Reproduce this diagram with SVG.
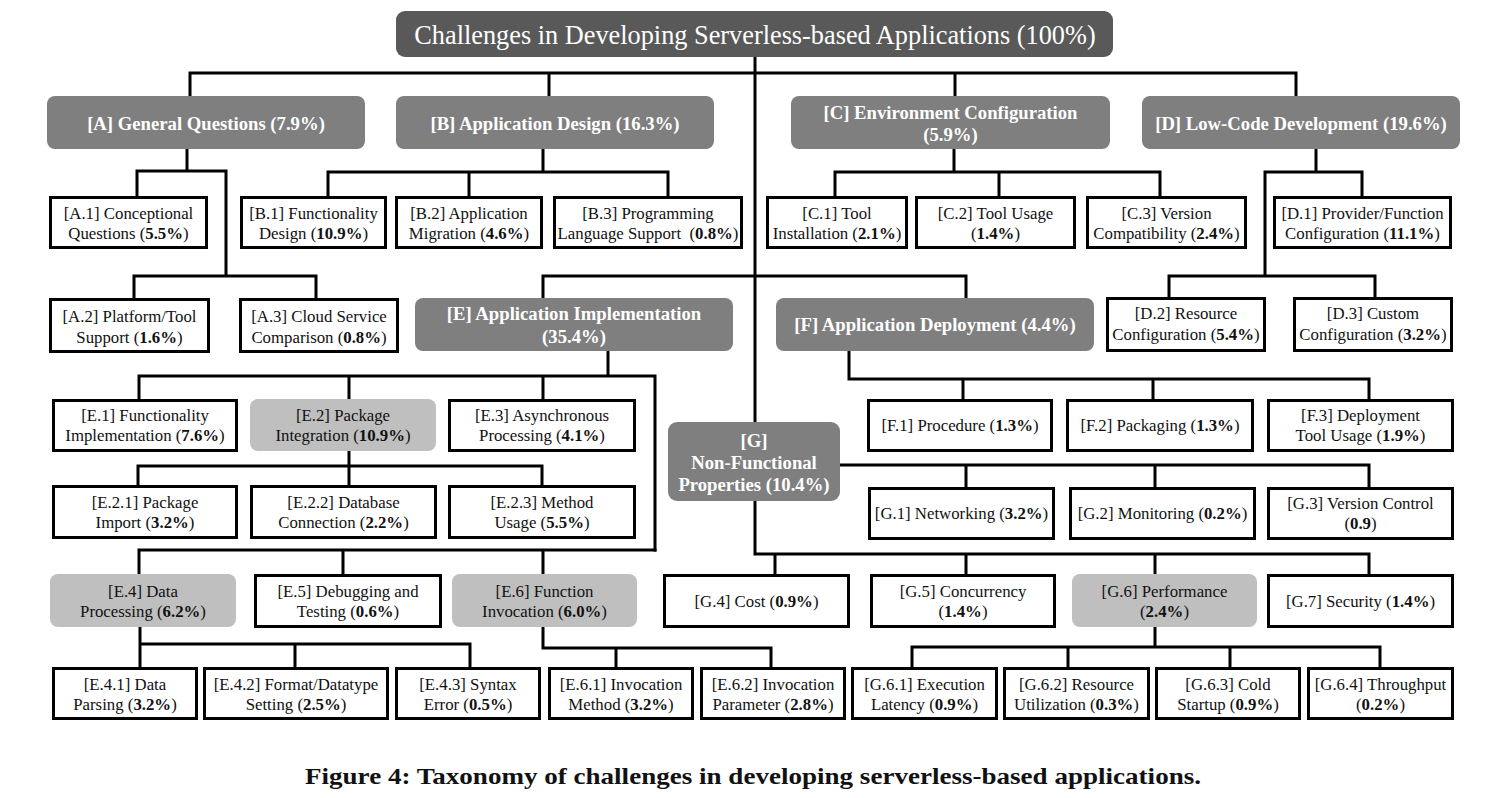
<svg xmlns="http://www.w3.org/2000/svg" width="1506" height="798" viewBox="0 0 1506 798">
  <style>
    .bg { fill: #ffffff; }
    .root { fill: #595959; }
    .cat { fill: #7f7f7f; }
    .sub { fill: #bfbfbf; }
    .leaf { fill: #ffffff; stroke: #000000; stroke-width: 3; }
    .wire { fill: none; stroke: #000000; stroke-width: 3; stroke-linejoin: miter; stroke-linecap: square; }
    text { font-family: "Liberation Serif", "Times New Roman", serif; text-anchor: middle; }
    .t { font-size: 16.8px; fill: #111111; }
    .b { font-weight: bold; }
    .h { font-size: 18.7px; font-weight: bold; fill: #ffffff; }
    .title { font-size: 26.3px; fill: #ffffff; }
    .caption { font-size: 23px; font-weight: bold; fill: #111111; }
  </style>

  <rect class="bg" x="0" y="0" width="1506" height="798"/>

  <!-- tree wiring -->
  <g id="connectors">
    <path class="wire" d="M755 57 V422"/>
    <path class="wire" d="M190 96 V73 H1296 V96 M549 73 V96 M955 73 V96"/>
    <!-- A -->
    <path class="wire" d="M187 149 V171 M137 196 V171 H226 V276 M134 298 V276 H316 V298"/>
    <!-- B -->
    <path class="wire" d="M543 149 V172 M328 196 V172 H668 V196 M469 172 V196"/>
    <!-- C -->
    <path class="wire" d="M954 149 V172 M835 196 V172 H1160 V196 M999 172 V196"/>
    <!-- D -->
    <path class="wire" d="M1316 149 V172 M1362 196 V172 H1265 V276 M1169 298 V276 H1375 V298"/>
    <!-- E / F -->
    <path class="wire" d="M543 298 V276 H966 V298"/>
    <!-- E -->
    <path class="wire" d="M608 351 V376 M139 399 V376 H655 V550 M349 376 V399 M543 376 V399"/>
    <path class="wire" d="M349 451 V466 M138 485 V466 H542 V485 M349 466 V485"/>
    <path class="wire" d="M139 574 V550 H655 M343 550 V574 M543 550 V574"/>
    <path class="wire" d="M140 627 V667 M140 644 H470 V667 M295 644 V667"/>
    <path class="wire" d="M543 627 V648 H771 V667 M616 648 V667"/>
    <!-- F -->
    <path class="wire" d="M849 351 V379 H1369 V399 M963 379 V399 M1153 379 V399"/>
    <!-- G -->
    <path class="wire" d="M840 465 H1369 V487 M966 465 V487 M1155 465 V487"/>
    <path class="wire" d="M755 501 V554 H1369 V574 M775 554 V574 M966 554 V574 M1155 554 V574"/>
    <path class="wire" d="M1155 627 V647 M912 667 V647 H1380 V667 M1068 647 V667 M1230 647 V667"/>
  </g>

  <!-- root -->
  <g id="root">
    <rect class="root" x="396" y="11" width="717" height="46" rx="9"/>
    <text class="title" x="755" y="44">Challenges in Developing Serverless-based Applications (100%)</text>
  </g>

  <!-- categories -->
  <g id="A">
    <rect class="cat" x="47" y="96" width="318" height="53" rx="8"/>
    <text class="h" x="206" y="130">[A] General Questions (7.9%)</text>
  </g>
  <g id="B">
    <rect class="cat" x="396" y="96" width="318" height="53" rx="8"/>
    <text class="h" x="555" y="130">[B] Application Design (16.3%)</text>
  </g>
  <g id="C">
    <rect class="cat" x="791" y="96" width="319" height="53" rx="8"/>
    <text class="h" x="950.5" y="119">[C] Environment Configuration</text>
    <text class="h" x="950.5" y="141">(5.9%)</text>
  </g>
  <g id="D">
    <rect class="cat" x="1142" y="96" width="318" height="53" rx="8"/>
    <text class="h" x="1301" y="130">[D] Low-Code Development (19.6%)</text>
  </g>
  <g id="E">
    <rect class="cat" x="415" y="298" width="318" height="53" rx="8"/>
    <text class="h" x="574" y="320">[E] Application Implementation</text>
    <text class="h" x="574" y="343">(35.4%)</text>
  </g>
  <g id="F">
    <rect class="cat" x="776" y="298" width="318" height="53" rx="8"/>
    <text class="h" x="935" y="331">[F] Application Deployment (4.4%)</text>
  </g>
  <g id="G">
    <rect class="cat" x="668" y="422" width="172" height="79" rx="9"/>
    <text class="h" x="754" y="447">[G]</text>
    <text class="h" x="754" y="469">Non-Functional</text>
    <text class="h" x="754" y="491">Properties (10.4%)</text>
  </g>

  <!-- A leaves -->
  <g id="A1">
    <rect class="leaf" x="50.5" y="197.5" width="156" height="50"/>
    <text class="t" x="128.5" y="219">[A.1] Conceptional</text>
    <text class="t" x="128.5" y="239">Questions (<tspan class="b">5.5%</tspan>)</text>
  </g>
  <g id="A2">
    <rect class="leaf" x="50.5" y="299.5" width="158" height="52"/>
    <text class="t" x="129.5" y="322">[A.2] Platform/Tool</text>
    <text class="t" x="129.5" y="343">Support (<tspan class="b">1.6%</tspan>)</text>
  </g>
  <g id="A3">
    <rect class="leaf" x="240.5" y="299.5" width="157" height="52"/>
    <text class="t" x="319" y="322">[A.3] Cloud Service</text>
    <text class="t" x="319" y="343">Comparison (<tspan class="b">0.8%</tspan>)</text>
  </g>

  <!-- B leaves -->
  <g id="B1">
    <rect class="leaf" x="241.5" y="197.5" width="144" height="50"/>
    <text class="t" x="313.5" y="219">[B.1] Functionality</text>
    <text class="t" x="313.5" y="239">Design (<tspan class="b">10.9%</tspan>)</text>
  </g>
  <g id="B2">
    <rect class="leaf" x="396.5" y="197.5" width="145" height="50"/>
    <text class="t" x="469" y="219">[B.2] Application</text>
    <text class="t" x="469" y="239">Migration (<tspan class="b">4.6%</tspan>)</text>
  </g>
  <g id="B3">
    <rect class="leaf" x="554.5" y="197.5" width="187" height="50"/>
    <text class="t" x="648" y="219">[B.3] Programming</text>
    <text class="t" x="648" y="239">Language Support &#160;(<tspan class="b">0.8%</tspan>)</text>
  </g>

  <!-- C leaves -->
  <g id="C1">
    <rect class="leaf" x="767.5" y="197.5" width="139" height="50"/>
    <text class="t" x="837" y="219">[C.1] Tool</text>
    <text class="t" x="837" y="239">Installation (<tspan class="b">2.1%</tspan>)</text>
  </g>
  <g id="C2">
    <rect class="leaf" x="916.5" y="197.5" width="158" height="50"/>
    <text class="t" x="995.5" y="219">[C.2] Tool Usage</text>
    <text class="t" x="995.5" y="239">(<tspan class="b">1.4%</tspan>)</text>
  </g>
  <g id="C3">
    <rect class="leaf" x="1087.5" y="197.5" width="158" height="50"/>
    <text class="t" x="1166.5" y="219">[C.3] Version</text>
    <text class="t" x="1166.5" y="239">Compatibility (<tspan class="b">2.4%</tspan>)</text>
  </g>

  <!-- D leaves -->
  <g id="D1">
    <rect class="leaf" x="1274.5" y="197.5" width="176" height="50"/>
    <text class="t" x="1362.5" y="219">[D.1] Provider/Function</text>
    <text class="t" x="1362.5" y="239">Configuration (<tspan class="b">11.1%</tspan>)</text>
  </g>
  <g id="D2">
    <rect class="leaf" x="1107.5" y="298.5" width="157" height="52"/>
    <text class="t" x="1186" y="319">[D.2] Resource</text>
    <text class="t" x="1186" y="340">Configuration (<tspan class="b">5.4%</tspan>)</text>
  </g>
  <g id="D3">
    <rect class="leaf" x="1294.5" y="298.5" width="157" height="52"/>
    <text class="t" x="1373" y="319">[D.3] Custom</text>
    <text class="t" x="1373" y="340">Configuration (<tspan class="b">3.2%</tspan>)</text>
  </g>

  <!-- E leaves -->
  <g id="E1">
    <rect class="leaf" x="53.5" y="400.5" width="183" height="50"/>
    <text class="t" x="145" y="421">[E.1] Functionality</text>
    <text class="t" x="145" y="441">Implementation (<tspan class="b">7.6%</tspan>)</text>
  </g>
  <g id="E2">
    <rect class="sub" x="250" y="399" width="186" height="52" rx="8"/>
    <text class="t" x="343" y="421">[E.2] Package</text>
    <text class="t" x="343" y="441">Integration (<tspan class="b">10.9%</tspan>)</text>
  </g>
  <g id="E3">
    <rect class="leaf" x="449.5" y="400.5" width="185" height="50"/>
    <text class="t" x="542" y="421">[E.3] Asynchronous</text>
    <text class="t" x="542" y="441">Processing (<tspan class="b">4.1%</tspan>)</text>
  </g>
  <g id="E2-1">
    <rect class="leaf" x="53.5" y="486.5" width="183" height="51"/>
    <text class="t" x="145" y="508">[E.2.1] Package</text>
    <text class="t" x="145" y="528">Import (<tspan class="b">3.2%</tspan>)</text>
  </g>
  <g id="E2-2">
    <rect class="leaf" x="251.5" y="486.5" width="184" height="51"/>
    <text class="t" x="343.5" y="508">[E.2.2] Database</text>
    <text class="t" x="343.5" y="528">Connection (<tspan class="b">2.2%</tspan>)</text>
  </g>
  <g id="E2-3">
    <rect class="leaf" x="449.5" y="486.5" width="185" height="51"/>
    <text class="t" x="542" y="508">[E.2.3] Method</text>
    <text class="t" x="542" y="528">Usage (<tspan class="b">5.5%</tspan>)</text>
  </g>
  <g id="E4">
    <rect class="sub" x="50" y="574" width="186" height="53" rx="8"/>
    <text class="t" x="143" y="597">[E.4] Data</text>
    <text class="t" x="143" y="617">Processing (<tspan class="b">6.2%</tspan>)</text>
  </g>
  <g id="E5">
    <rect class="leaf" x="255.5" y="575.5" width="185" height="51"/>
    <text class="t" x="348" y="597">[E.5] Debugging and</text>
    <text class="t" x="348" y="617">Testing (<tspan class="b">0.6%</tspan>)</text>
  </g>
  <g id="E6">
    <rect class="sub" x="452" y="574" width="185" height="53" rx="8"/>
    <text class="t" x="544.5" y="597">[E.6] Function</text>
    <text class="t" x="544.5" y="617">Invocation (<tspan class="b">6.0%</tspan>)</text>
  </g>
  <g id="E4-1">
    <rect class="leaf" x="53.5" y="668.5" width="143" height="50"/>
    <text class="t" x="125" y="690">[E.4.1] Data</text>
    <text class="t" x="125" y="710">Parsing (<tspan class="b">3.2%</tspan>)</text>
  </g>
  <g id="E4-2">
    <rect class="leaf" x="204.5" y="668.5" width="183" height="50"/>
    <text class="t" x="296" y="690">[E.4.2] Format/Datatype</text>
    <text class="t" x="296" y="710">Setting (<tspan class="b">2.5%</tspan>)</text>
  </g>
  <g id="E4-3">
    <rect class="leaf" x="396.5" y="668.5" width="143" height="50"/>
    <text class="t" x="468" y="690">[E.4.3] Syntax</text>
    <text class="t" x="468" y="710">Error (<tspan class="b">0.5%</tspan>)</text>
  </g>
  <g id="E6-1">
    <rect class="leaf" x="549.5" y="668.5" width="143" height="50"/>
    <text class="t" x="621" y="690">[E.6.1] Invocation</text>
    <text class="t" x="621" y="710">Method (<tspan class="b">3.2%</tspan>)</text>
  </g>
  <g id="E6-2">
    <rect class="leaf" x="701.5" y="668.5" width="143" height="50"/>
    <text class="t" x="773" y="690">[E.6.2] Invocation</text>
    <text class="t" x="773" y="710">Parameter (<tspan class="b">2.8%</tspan>)</text>
  </g>

  <!-- F leaves -->
  <g id="F1">
    <rect class="leaf" x="868.5" y="400.5" width="183" height="50"/>
    <text class="t" x="960" y="431">[F.1] Procedure (<tspan class="b">1.3%</tspan>)</text>
  </g>
  <g id="F2">
    <rect class="leaf" x="1067.5" y="400.5" width="185" height="50"/>
    <text class="t" x="1160" y="431">[F.2] Packaging (<tspan class="b">1.3%</tspan>)</text>
  </g>
  <g id="F3">
    <rect class="leaf" x="1268.5" y="400.5" width="184" height="50"/>
    <text class="t" x="1360.5" y="421">[F.3] Deployment</text>
    <text class="t" x="1360.5" y="441">Tool Usage (<tspan class="b">1.9%</tspan>)</text>
  </g>

  <!-- G leaves -->
  <g id="G1">
    <rect class="leaf" x="869.5" y="488.5" width="184" height="50"/>
    <text class="t" x="961.5" y="519">[G.1] Networking (<tspan class="b">3.2%</tspan>)</text>
  </g>
  <g id="G2">
    <rect class="leaf" x="1070.5" y="488.5" width="184" height="50"/>
    <text class="t" x="1162.5" y="519">[G.2] Monitoring (<tspan class="b">0.2%</tspan>)</text>
  </g>
  <g id="G3">
    <rect class="leaf" x="1268.5" y="488.5" width="184" height="50"/>
    <text class="t" x="1360.5" y="509">[G.3] Version Control</text>
    <text class="t" x="1360.5" y="529">(<tspan class="b">0.9</tspan>)</text>
  </g>
  <g id="G4">
    <rect class="leaf" x="664.5" y="575.5" width="184" height="51"/>
    <text class="t" x="756.5" y="607">[G.4] Cost (<tspan class="b">0.9%</tspan>)</text>
  </g>
  <g id="G5">
    <rect class="leaf" x="871.5" y="575.5" width="183" height="51"/>
    <text class="t" x="963" y="597">[G.5] Concurrency</text>
    <text class="t" x="963" y="617">(<tspan class="b">1.4%</tspan>)</text>
  </g>
  <g id="G6">
    <rect class="sub" x="1072" y="574" width="185" height="53" rx="8"/>
    <text class="t" x="1164.5" y="597">[G.6] Performance</text>
    <text class="t" x="1164.5" y="617">(<tspan class="b">2.4%</tspan>)</text>
  </g>
  <g id="G7">
    <rect class="leaf" x="1268.5" y="575.5" width="184" height="51"/>
    <text class="t" x="1360.5" y="607">[G.7] Security (<tspan class="b">1.4%</tspan>)</text>
  </g>
  <g id="G6-1">
    <rect class="leaf" x="852.5" y="668.5" width="144" height="50"/>
    <text class="t" x="924.5" y="690">[G.6.1] Execution</text>
    <text class="t" x="924.5" y="710">Latency (<tspan class="b">0.9%</tspan>)</text>
  </g>
  <g id="G6-2">
    <rect class="leaf" x="1004.5" y="668.5" width="144" height="50"/>
    <text class="t" x="1076.5" y="690">[G.6.2] Resource</text>
    <text class="t" x="1076.5" y="710">Utilization (<tspan class="b">0.3%</tspan>)</text>
  </g>
  <g id="G6-3">
    <rect class="leaf" x="1156.5" y="668.5" width="143" height="50"/>
    <text class="t" x="1228" y="690">[G.6.3] Cold</text>
    <text class="t" x="1228" y="710">Startup (<tspan class="b">0.9%</tspan>)</text>
  </g>
  <g id="G6-4">
    <rect class="leaf" x="1308.5" y="668.5" width="144" height="50"/>
    <text class="t" x="1380.5" y="690">[G.6.4] Throughput</text>
    <text class="t" x="1380.5" y="710">(<tspan class="b">0.2%</tspan>)</text>
  </g>

  <text class="caption" x="753" y="784" textLength="896" lengthAdjust="spacingAndGlyphs">Figure 4: Taxonomy of challenges in developing serverless-based applications.</text>
</svg>
